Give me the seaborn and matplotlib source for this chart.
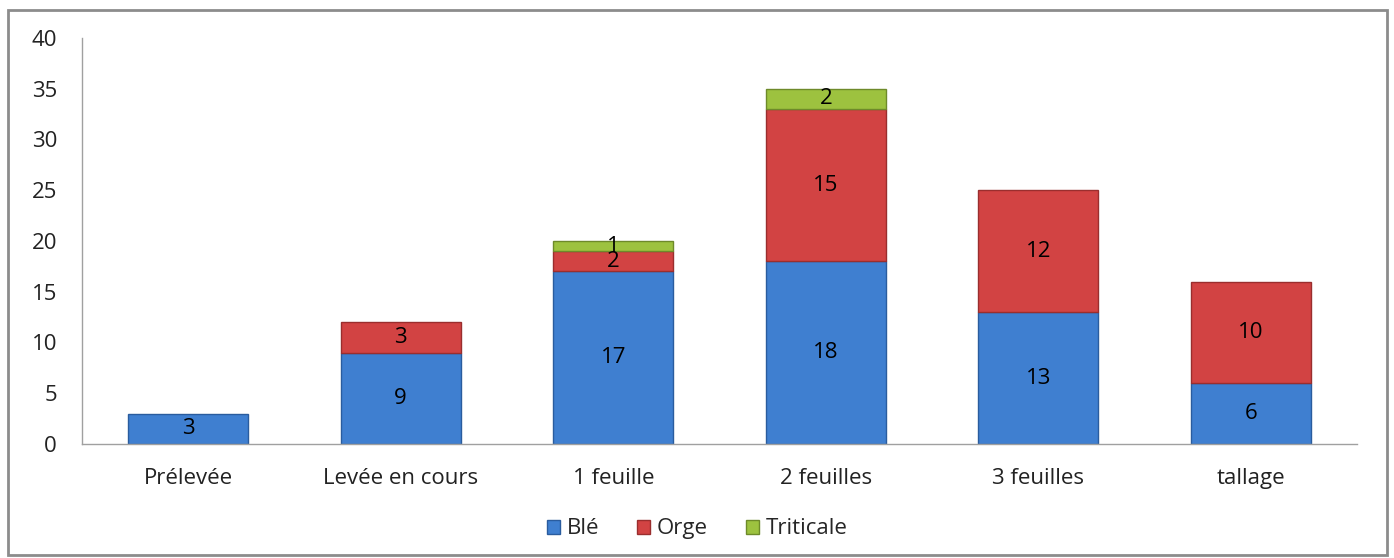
import matplotlib
matplotlib.use("Agg")
import matplotlib.pyplot as plt
import seaborn as sns
import numpy as np
from matplotlib.patches import Rectangle, Patch

# Data
categories = ["Prélevée", "Levée en cours", "1 feuille", "2 feuilles", "3 feuilles", "tallage"]
ble = [3, 9, 17, 18, 13, 6]
orge = [0, 3, 2, 15, 12, 10]
triticale = [0, 0, 1, 2, 0, 0]

series = [("Blé", ble, "#3F7FD0", "#2A5C9E"),
          ("Orge", orge, "#D24343", "#9A2E2E"),
          ("Triticale", triticale, "#9DC23F", "#6E8A2A")]

sns.set_theme(style="white")
plt.rcParams['font.family'] = ['Open Sans', 'DejaVu Sans']

fig = plt.figure(figsize=(13.94, 5.58), dpi=100)
ax = fig.add_axes([0.0588, 0.2043, 0.9147, 0.7277])

bottom = np.zeros(len(categories))
for name, vals, col, edge in series:
    sns.barplot(x=categories, y=vals, bottom=bottom, color=col, width=0.565,
                edgecolor=edge, linewidth=1.0, ax=ax, saturation=1)
    for i, v in enumerate(vals):
        if v > 0:
            ax.text(i, bottom[i] + v / 2, str(v), ha="center", va="center",
                    fontsize=16, color="black")
    bottom = bottom + np.array(vals)

# hide empty segments
for p in ax.patches:
    if p.get_height() == 0:
        p.set_visible(False)

ax.set_ylim(0, 40)
ax.set_xlim(-0.5, len(categories) - 0.5)
ax.set_yticks(range(0, 41, 5))
ax.tick_params(axis="both", length=0, labelsize=16, colors="#222222")
ax.tick_params(axis="y", pad=18)
ax.tick_params(axis="x", pad=17)
for s in ["top", "right"]:
    ax.spines[s].set_visible(False)
for s in ["left", "bottom"]:
    ax.spines[s].set_color("#A0A0A0")
    ax.spines[s].set_linewidth(1.0)
ax.set_xlabel("")
ax.set_ylabel("")

handles = [Patch(facecolor=c, edgecolor=e, label=n) for n, _, c, e in series]
fig.legend(handles=handles, loc="center", bbox_to_anchor=(0.5, 0.052), ncol=3,
           frameon=False, fontsize=16, handlelength=0.6, handleheight=0.6,
           handletextpad=0.3, columnspacing=1.7)

# chart frame
fig.patches.append(Rectangle((0.006, 0.005), 0.989, 0.977, transform=fig.transFigure,
                             fill=False, edgecolor="#8C8C8C", linewidth=2))

plt.savefig("out.png", dpi=100)
